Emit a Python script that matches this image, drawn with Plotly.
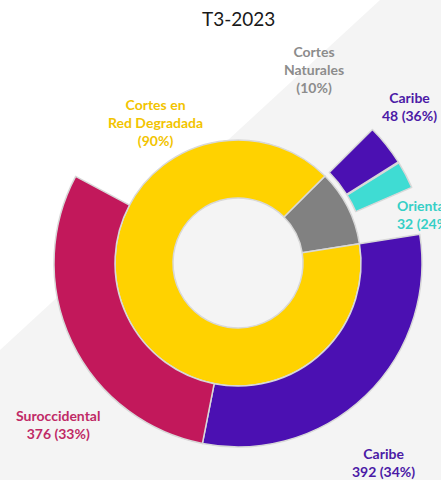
import plotly.graph_objects as go

# inner ring: type of outage
inner_labels = ['Cortes Naturales', 'Cortes en Red Degradada']
inner_pct = [10, 90]
inner_text = ['Cortes<br>Naturales<br>(10%)', 'Cortes en<br>Red Degradada<br>(90%)']

# outer ring: regions inside each type (only the ones shown)
nat_regions = ['Caribe', 'Oriental']
nat_counts = [48, 32]
nat_pct = [36, 24]

deg_regions = ['Caribe', 'Suroccidental']
deg_counts = [392, 376]
deg_pct = [34, 33]

YELLOW = '#FFD200'
GRAY = '#818181'
PURPLE = '#4B10B2'
CYAN = '#3FDCD3'
CRIMSON = '#C2185B'

W, H = 441, 480
CX, CY = 238, 263       # pie centre in px
R_IN, R_HOLE = 123, 65
R_OUT = 184
PULL = 0.03


def px(x, y):
    return x / W, 1 - y / H


def dom(r):
    return dict(x=[(CX - r) / W, (CX + r) / W],
                y=[(H - CY - r) / H, (H - CY + r) / H])


# outer values as share of the whole circle
outer_vals = [p * inner_pct[0] / 100 for p in nat_pct]
outer_vals.append((100 - sum(nat_pct)) * inner_pct[0] / 100)
outer_vals += [p * inner_pct[1] / 100 for p in deg_pct]
outer_vals.append((100 - sum(deg_pct)) * inner_pct[1] / 100)
outer_colors = [PURPLE, CYAN, 'rgba(0,0,0,0)', PURPLE, CRIMSON, 'rgba(0,0,0,0)']
outer_lines = ['#d8d8d8', '#d8d8d8', 'rgba(0,0,0,0)', '#d8d8d8', '#d8d8d8', 'rgba(0,0,0,0)']
outer_pull = [PULL, PULL, 0, 0, 0, 0]

fig = go.Figure()
fig.add_trace(go.Pie(
    values=inner_pct, labels=inner_labels, sort=False, direction='clockwise',
    rotation=45, hole=R_HOLE / R_IN, textinfo='none',
    marker=dict(colors=[GRAY, YELLOW], line=dict(color='#d8d8d8', width=1.5)),
    domain=dom(R_IN), showlegend=False,
))
fig.add_trace(go.Pie(
    values=outer_vals, sort=False, direction='clockwise', rotation=45,
    hole=R_IN / R_OUT, textinfo='none', pull=outer_pull,
    marker=dict(colors=outer_colors, line=dict(color=outer_lines, width=1.5)),
    domain=dom(R_OUT * (1 + PULL)), showlegend=False,
))

FONT = 'Lato'
ann = [
    (155, 122, inner_text[1], '#F2C400', 'center'),
    (314, 69, inner_text[0], '#8C8C8C', 'center'),
    (409, 106, f'{nat_regions[0]}<br>{nat_counts[0]} ({nat_pct[0]}%)', '#4B1AA6', 'center'),
    (395, 214, f'{nat_regions[1]}<br>{nat_counts[1]} ({nat_pct[1]}%)', '#36CFC6', 'left'),
    (58, 424, f'{deg_regions[1]}<br>{deg_counts[1]} ({deg_pct[1]}%)', '#C02A66', 'center'),
    (383, 462, f'{deg_regions[0]}<br>{deg_counts[0]} ({deg_pct[0]}%)', '#4B1AA6', 'center'),
]
for x, y, t, c, xa in ann:
    ax, ay = px(x, y)
    fig.add_annotation(x=ax, y=ay, xref='paper', yref='paper', text=t,
                       showarrow=False, xanchor=xa, yanchor='middle', align=xa,
                       font=dict(family=FONT, size=14, color=c, weight='bold'))

tx, ty = px(238, 19)
fig.add_annotation(x=tx, y=ty, xref='paper', yref='paper', text='T3-2023',
                   showarrow=False, xanchor='center', yanchor='middle',
                   font=dict(family=FONT, size=19, color='#1a1a1a'))

# light diagonal backdrop
x0, y0 = px(380, 0)
x1, y1 = px(0, 350)
fig.add_shape(type='path', xref='paper', yref='paper', layer='below',
              path=f'M {x0} {y0} L 1.1 {y0} L 1.1 -0.1 L {x1} -0.1 L {x1} {y1} Z',
              fillcolor='#f4f4f4', line=dict(width=0))

fig.update_layout(width=W, height=H, margin=dict(l=0, r=0, t=0, b=0),
                  paper_bgcolor='white', plot_bgcolor='white')
# drop the default body margin so the figure sits at the page corner
fig.write_html('out.html', config={'displayModeBar': False},
               post_script="document.body.style.margin='0';")
